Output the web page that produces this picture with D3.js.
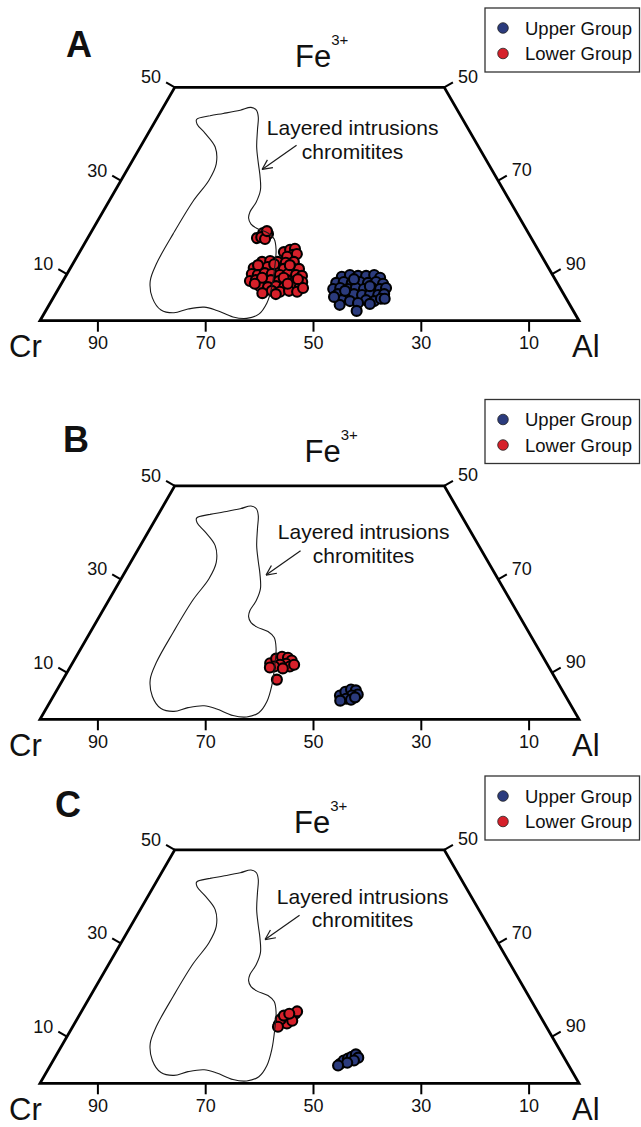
<!DOCTYPE html>
<html><head><meta charset="utf-8">
<script src="https://cdn.jsdelivr.net/npm/d3@7"></script>
<style>body{margin:0;background:#fff}svg{display:block}text{font-family:"Liberation Sans",Arial,Helvetica,sans-serif;fill:#111}</style>
</head><body><svg id="c" width="641" height="1127"></svg>
<script>
// ---------- data (ternary: [Cr, Fe3+], Al = 100 - Cr - Fe3+) ----------
const panelLabels = ["A", "B", "C"];
const groupNames = ["Upper Group", "Lower Group"];
const groupColors = ["#2b3b7d", "#d6202a"];
const leftTicks = [10, 30, 50];     // Fe3+ on the Cr–Fe edge
const rightTicks = [90, 70, 50];    // Al on the Al–Fe edge
const baseTicks = [90, 70, 50, 30, 10]; // Cr on the Cr–Al edge
const fieldLabel = ["Layered intrusions", "chromitites"];

// outline of layered-intrusion chromitite field
const fieldCr = [49.4,46.5,43.8,40.3,38.0,37.3,37.7,39.2,41.2,42.6,43.6,45.1,47.2,49.4,50.3,50.5,49.9,48.3,47.8,48.6,50.7,53.4,56.0,58.7,61.4,63.8,66.1,68.1,71.3,74.3,76.4,76.7,75.3,72.3,66.0,58.8,53.6,50.5,48.9,49.3,49.8];
const fieldFe = [43.1,43.9,44.4,45.1,45.7,45.1,43.6,40.9,37.2,33.8,31.2,28.0,25.4,23.3,22.0,20.7,19.8,18.8,17.5,15.2,11.5,7.2,3.8,1.4,0.5,0.8,2.2,2.9,2.5,1.7,2.3,4.9,8.5,12.2,18.6,25.6,30.1,33.6,37.2,40.2,42.1];
const arrowTip = [42.6, 32.4], arrowTail = [33.6, 37.6];

const lowerA = [[50.9,17.7],[49.2,18.8],[48.4,18.6],[50.0,17.9],[49.5,17.5],[48.3,19.2],
 [47.4,14.7],[46.0,15.2],[45.0,15.4],[46.0,14.1],[47.3,13.7],[45.2,14.3],
 [52.5,12.6],[50.9,12.8],[49.6,12.6],[48.2,12.4],[46.6,12.6],
 [54.7,11.3],[53.5,11.3],[52.0,11.5],[50.6,11.3],[49.2,11.1],[47.6,11.3],[46.4,11.1],
 [55.7,10.0],[54.7,9.8],[53.2,10.2],[52.0,10.0],[50.6,9.8],[49.0,10.0],[47.6,9.8],[46.6,9.6],
 [56.8,8.5],[55.6,8.7],[54.2,8.5],[52.8,8.7],[51.4,8.5],[49.8,8.7],[48.4,8.5],[47.2,8.3],
 [55.5,7.4],[54.1,7.2],[52.5,7.4],[51.1,7.2],[49.5,7.4],[48.2,7.2],
 [53.8,6.4],[52.4,6.2],[50.6,6.4],[49.2,6.2],
 [53.6,11.9],[50.5,12.1],[47.7,11.9],[54.2,9.2],[50.2,9.2],[47.7,8.9],[56.2,7.9],[50.1,7.9],[47.7,7.0],[53.4,5.7],
 [55.8,5.9]];
const upperA = [[39.3,9.4],[37.6,9.8],[36.2,9.6],[34.7,9.6],[33.1,9.8],[32.3,9.2],
 [41.0,8.1],[39.5,8.3],[38.1,8.1],[36.5,8.3],[35.1,8.1],[33.5,8.3],[32.4,7.9],
 [42.2,6.8],[40.8,7.0],[39.5,6.8],[37.9,7.0],[36.5,6.8],[34.9,7.0],[33.5,6.8],[32.3,7.0],
 [41.9,5.7],[40.5,5.5],[38.9,5.7],[37.5,5.5],[35.9,5.7],[34.5,5.5],[33.3,5.7],
 [41.8,4.4],[40.4,4.2],[37.3,4.4],[35.9,4.2],[34.4,4.7],[42.7,3.4],[37.0,3.6],
 [37.3,8.9],[35.1,7.4],[40.2,6.4],[39.1,3.8],[42.9,5.1],[33.7,4.7],
 [40.2,2.1]];
const lowerB = [[51.3,12.0],[49.7,13.0],[48.4,13.4],[47.4,13.2],[47.0,12.6],[48.4,11.9],[49.6,11.7],
 [50.9,11.3],[48.0,11.3],[49.5,10.9],[51.8,8.5],[51.8,11.1],[47.0,11.7]];
const upperB = [[41.8,5.1],[40.4,5.9],[39.1,6.4],[38.3,6.2],[38.4,5.3],[39.6,5.1],[41.0,4.4],[42.3,4.0],[40.2,4.2],[39.2,4.7]];
const lowerC = [[49.4,12.6],[48.3,13.2],[47.3,13.7],[46.3,14.3],[45.2,14.9],[44.6,15.4],[47.8,12.8],[46.5,13.4],[48.5,13.7],[49.8,12.1],[47.5,14.5],[46.3,14.9]];
const upperC = [[42.2,4.2],[41.2,4.9],[40.2,5.3],[39.3,5.7],[38.3,6.2],[38.2,5.5],[39.3,4.9],[40.8,4.4],[42.8,3.8]];
const panelData = [[upperA, lowerA], [upperB, lowerB], [upperC, lowerC]];

// ---------- layout ----------
const svg = d3.select("#c");
const W = 539, H = W * Math.sqrt(3) / 2, X0 = 40;
const panelBase = [320.7, 719.3, 1083.3];
const letterPos = [[66, 57], [63, 452], [55, 817]];
const fePos = [[295, 67], [304.5, 462], [294, 833]];
const legendTop = [8, 399.5, 776];
const textShift = [[0, 0], [11, 5.5], [10, 6]];
const arrowShift = [[0, 0], [4, 7], [3, 7.5]];
const nx = Math.sqrt(3) / 2, ny = 0.5, tickLen = 10;

panelLabels.forEach((lab, i) => {
  const g = svg.append("g");
  const sx = d3.scaleLinear().domain([0, 100]).range([X0, X0 + W]);
  const sy = d3.scaleLinear().domain([0, 100]).range([panelBase[i], panelBase[i] - H]);
  const P = (cr, fe) => [sx(100 - cr - fe / 2), sy(fe)];

  // frame (truncated at Fe3+ = 50)
  const frame = [[100, 0], [0, 0], [0, 50], [50, 50]].map(d => P(d[0], d[1]));
  g.append("path").attr("d", d3.line()(frame) + "Z")
    .attr("fill", "none").attr("stroke", "#000").attr("stroke-width", 2.8).attr("stroke-linejoin", "miter");

  leftTicks.forEach(v => {
    const [x, y] = P(100 - v, v);
    g.append("line").attr("x1", x).attr("y1", y).attr("x2", x - nx * tickLen).attr("y2", y - ny * tickLen)
      .attr("stroke", "#000").attr("stroke-width", 2);
    g.append("text").attr("x", x - nx * tickLen - 5).attr("y", y - ny * tickLen + 1)
      .attr("text-anchor", "end").attr("font-size", 18).text(v);
  });
  rightTicks.forEach(v => {
    const [x, y] = P(0, 100 - v);
    g.append("line").attr("x1", x).attr("y1", y).attr("x2", x + nx * tickLen).attr("y2", y - ny * tickLen)
      .attr("stroke", "#000").attr("stroke-width", 2);
    g.append("text").attr("x", x + nx * tickLen + 5).attr("y", y - ny * tickLen + 0.5)
      .attr("text-anchor", "start").attr("font-size", 18).text(v);
  });
  baseTicks.forEach(v => {
    const [x, y] = P(v, 0);
    g.append("line").attr("x1", x + 4).attr("y1", y).attr("x2", x + 4).attr("y2", y + 11)
      .attr("stroke", "#000").attr("stroke-width", 2);
    g.append("text").attr("x", x + 4).attr("y", y + 28.5)
      .attr("text-anchor", "middle").attr("font-size", 18).text(v);
  });

  g.append("text").attr("x", 9).attr("y", panelBase[i] + 36.3).attr("font-size", 31).text("Cr");
  g.append("text").attr("x", 572).attr("y", panelBase[i] + 36.3).attr("font-size", 31).text("Al");
  const fe = g.append("text").attr("x", fePos[i][0]).attr("y", fePos[i][1]).attr("font-size", 31);
  fe.append("tspan").text("Fe");
  fe.append("tspan").attr("font-size", 15).attr("dy", -22).text("3+");

  g.append("text").attr("x", letterPos[i][0]).attr("y", letterPos[i][1])
    .attr("font-size", 36).attr("font-weight", "bold").text(lab);

  // data points
  [1, 0].forEach(k => {
    g.append("g").selectAll("circle").data(panelData[i][k]).join("circle")
      .attr("cx", d => P(d[0], d[1])[0]).attr("cy", d => P(d[0], d[1])[1])
      .attr("r", 5).attr("fill", groupColors[k]).attr("stroke", "#000").attr("stroke-width", 2.1);
  });

  // field outline
  const fieldPts = fieldCr.map((c, j) => P(c, fieldFe[j]));
  g.append("path").attr("d", d3.line().curve(d3.curveCatmullRomClosed.alpha(0.5))(fieldPts))
    .attr("fill", "none").attr("stroke", "#1a1a1a").attr("stroke-width", 1.1);

  // annotation arrow
  const tip = P(...arrowTip), tail = P(...arrowTail);
  const ax = arrowShift[i][0], ay = arrowShift[i][1];
  const tx = tip[0] + ax, ty = tip[1] + ay, qx = tail[0] + ax, qy = tail[1] + ay;
  g.append("line").attr("x1", qx).attr("y1", qy).attr("x2", tx).attr("y2", ty).attr("stroke", "#1a1a1a").attr("stroke-width", 1.2);
  const ang = Math.atan2(qy - ty, qx - tx);
  [-0.45, 0.45].forEach(da => {
    g.append("line").attr("x1", tx).attr("y1", ty)
      .attr("x2", tx + 11 * Math.cos(ang + da)).attr("y2", ty + 11 * Math.sin(ang + da))
      .attr("stroke", "#1a1a1a").attr("stroke-width", 1.2);
  });
  fieldLabel.forEach((s, j) => {
    g.append("text").attr("text-anchor", "middle").attr("font-size", 21)
      .attr("x", 352.6 + textShift[i][0])
      .attr("y", panelBase[i] - 185.7 + j * 23.5 + textShift[i][1]).text(s);
  });

  // legend
  const lg = g.append("g").attr("transform", `translate(485,${legendTop[i]})`);
  lg.append("rect").attr("x", 0).attr("y", 0).attr("width", 154.5).attr("height", 64)
    .attr("fill", "#fff").attr("stroke", "#333").attr("stroke-width", 1.3);
  groupNames.forEach((nm, k) => {
    lg.append("circle").attr("cx", 18).attr("cy", 20 + k * 25.5).attr("r", 5.3)
      .attr("fill", groupColors[k]).attr("stroke", "#222").attr("stroke-width", 0.8);
    lg.append("text").attr("x", 40).attr("y", 20 + k * 25.5 + 6.6).attr("font-size", 18.5).text(nm);
  });
});
</script></body></html>
